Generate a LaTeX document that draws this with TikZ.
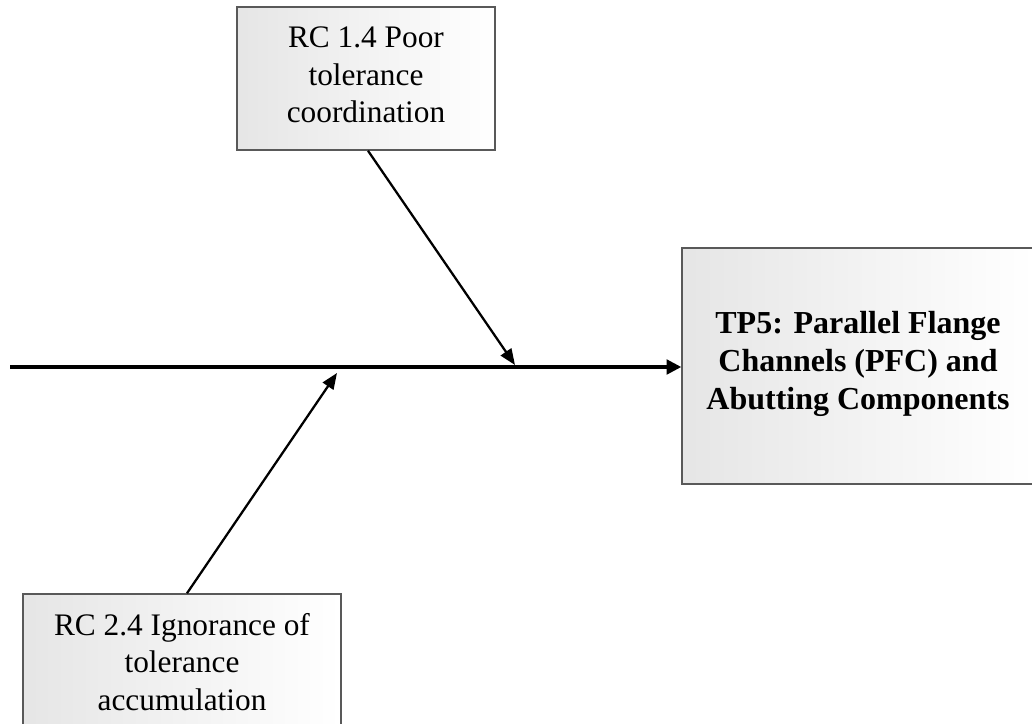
\documentclass[tikz,border=0pt]{standalone}
\usepackage{fontspec}
\setmainfont{Liberation Serif}
\usetikzlibrary{arrows.meta}
\tikzset{
  causebox/.style={draw=black!65, line width=1.1pt, left color=black!10, right color=white, inner sep=0pt},
  causetext/.style={align=center, inner sep=0pt, font=\fontsize{23.5}{28}\selectfont},
  headtext/.style={align=center, inner sep=0pt, font=\fontsize{24}{28.75}\selectfont\bfseries},
  spine/.style={line width=2.3pt, -{Triangle[length=11pt,width=11pt]}},
  bone/.style={line width=1.7pt, -{Triangle[length=12pt,width=9.5pt]}}
}
\begin{document}
\begin{tikzpicture}[x=0.75pt,y=-0.75pt]
\useasboundingbox (0,0) rectangle (1032,724);
\clip (0,0) rectangle (1032,724);
\fill[white] (0,0) rectangle (1032,724);
\node[causebox, minimum width=193.5pt, minimum height=107.25pt] (rc14) at (366,78.5) {};
\node[causetext] (rc14t) at (366,75) {RC 1.4 Poor\\tolerance\\coordination};
\node[causebox, minimum width=238.5pt, minimum height=107.25pt] (rc24) at (182,665.5) {};
\node[causetext] (rc24t) at (182,662) {RC 2.4 Ignorance of\\tolerance\\accumulation};
\node[causebox, minimum width=264pt, minimum height=177pt] (tp5) at (858,366) {};
\node[headtext] (tp5t) at (858,364) {TP5: Parallel Flange\\Channels (PFC) and\\Abutting Components};
\coordinate (tail) at (10,367);
\coordinate (hitA) at (515,365);
\coordinate (hitB) at (337,373);
\draw[spine] (tail) -- (tail -| tp5.west);
\draw[bone] ([xshift=1.5pt]rc14.south) -- (hitA);
\draw[bone] ([xshift=3.75pt]rc24.north) -- (hitB);
\end{tikzpicture}
\end{document}
